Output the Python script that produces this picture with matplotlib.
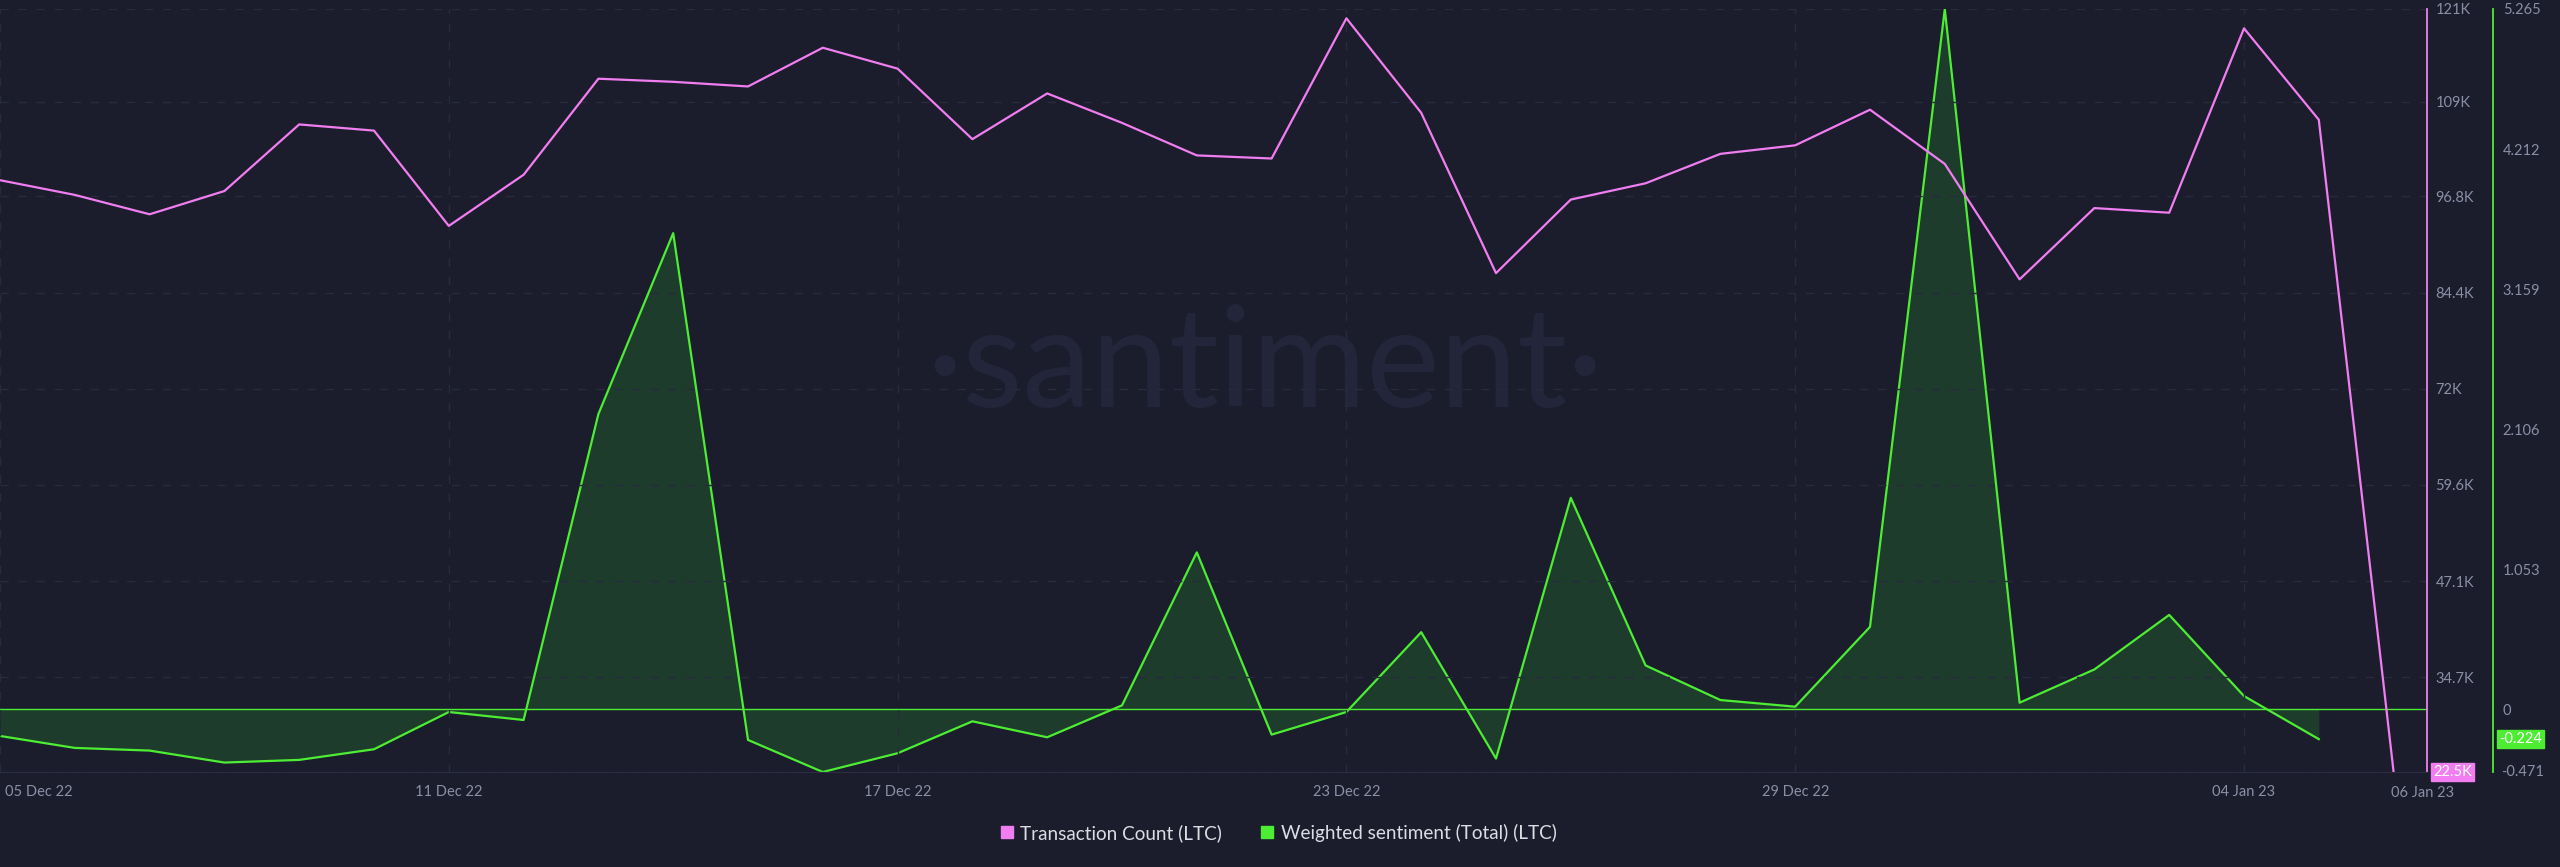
import matplotlib
matplotlib.use("Agg")
import matplotlib.pyplot as plt
import matplotlib.dates as mdates
import matplotlib.transforms as mtransforms
from matplotlib.lines import Line2D
import pandas as pd
import numpy as np

# ---- data ----
dates = pd.date_range("2022-12-05", "2023-01-06", freq="D")
tx_count_k = [98.9, 97.0, 94.5, 97.5, 106.1, 105.3, 93.0, 99.6, 112.0, 111.6, 111.0,
              116.0, 113.3, 104.2, 110.1, 106.3, 102.1, 101.7, 119.8, 107.6, 86.9, 96.4,
              98.5, 102.3, 103.4, 108.0, 101.0, 86.1, 95.3, 94.7, 118.5, 106.7, 22.5]
sentiment = [-0.20, -0.29, -0.31, -0.40, -0.38, -0.30, -0.02, -0.08, 2.22, 3.58, -0.23,
             -0.471, -0.33, -0.09, -0.21, 0.03, 1.18, -0.19, -0.02, 0.58, -0.37, 1.59,
             0.33, 0.07, 0.02, 0.62, 5.265, 0.05, 0.30, 0.71, 0.10, -0.224]
tx_ticks_k = [22.5, 34.7, 47.1, 59.6, 72.0, 84.4, 96.8, 109.0, 121.0]
tx_tick_labels = ["", "34.7K", "47.1K", "59.6K", "72K", "84.4K", "96.8K", "109K", "121K"]
sent_ticks = [0, 1.053, 2.106, 3.159, 4.212, 5.265]
sent_tick_labels = ["0", "1.053", "2.106", "3.159", "4.212", "5.265"]
x_tick_dates = pd.to_datetime(["2022-12-05", "2022-12-11", "2022-12-17", "2022-12-23",
                               "2022-12-29", "2023-01-04"])
series_names = ["Transaction Count (LTC)", "Weighted sentiment (Total) (LTC)"]

# ---- style ----
BG = "#1b1d2c"
GRID = "#282b3e"
PINK = "#f07ef0"
GREEN = "#4ded34"
FILL = "#1f3e2c"
TXT = "#8b8fa6"
plt.rcParams["font.family"] = ["Lato", "DejaVu Sans"]

W, H = 2560, 867
fig = plt.figure(figsize=(W / 100, H / 100), dpi=100, facecolor=BG)

ax_left, ax_right, ax_top, ax_bot = 0, 2427, 9, 772
ax = fig.add_axes([ax_left / W, 1 - ax_bot / H, (ax_right - ax_left) / W, (ax_bot - ax_top) / H])
ax2 = ax.twinx()
ax.set_zorder(ax2.get_zorder() + 1)
ax.patch.set_visible(False)
ax2.set_facecolor(BG)

# watermark (behind everything)
ax2.text(1265 / 2427, (772 - 368) / (772 - 9), "\u00b7santiment\u00b7", transform=ax2.transAxes,
         color="#23263a", fontsize=100, fontweight="normal", ha="center", va="center", zorder=0)

x = mdates.date2num(dates)
tx_vals = np.array(tx_count_k) * 1000
ax.plot(x, tx_vals, color=PINK, lw=1.6, zorder=3)

xs = x[:len(sentiment)]
ax2.fill_between(xs, sentiment, 0, color=FILL, alpha=0.95, lw=0, zorder=1)
ax2.plot(xs, sentiment, color=GREEN, lw=1.6, zorder=2)
ax2.axhline(0, color=GREEN, lw=1.0, zorder=2)

x0 = x[0]
day_px = 74.8
ax.set_xlim(x0, x0 + (ax_right - 0) / day_px)
ax.set_ylim(22.5e3, 121e3)
ax2.set_ylim(-0.471, 5.265)

# grid
ax.set_yticks(np.array(tx_ticks_k) * 1000)
ax.set_yticklabels(tx_tick_labels)
ax.set_xticks(mdates.date2num(x_tick_dates))
ax.xaxis.set_major_formatter(mdates.DateFormatter("%d %b %y"))
ax.grid(True, color=GRID, lw=1.0, ls=(0, (6, 7)))

ax.yaxis.tick_right()
ax.tick_params(axis="y", length=0, pad=6, labelsize=10.5, colors=TXT)
ax.tick_params(axis="x", length=0, pad=9, labelsize=10.5, colors=TXT)
fig.canvas.draw()
first = ax.get_xticklabels()[0]
first.set_ha("left")
first.set_transform(first.get_transform() + mtransforms.ScaledTranslation(5 / 100, 0, fig.dpi_scale_trans))

for s in ["left", "top"]:
    ax.spines[s].set_visible(False)
ax.spines["bottom"].set_color("#2b2e42")
ax.spines["right"].set_color(PINK)
ax.spines["right"].set_linewidth(1.3)

ax2.spines["right"].set_position(("axes", 2493 / (ax_right - ax_left)))
for s in ["left", "top", "bottom"]:
    ax2.spines[s].set_visible(False)
ax2.spines["right"].set_color(GREEN)
ax2.spines["right"].set_linewidth(1.3)
ax2.set_yticks(sent_ticks)
ax2.set_yticklabels(sent_tick_labels)
ax2.tick_params(axis="y", length=0, pad=7, labelsize=10.5, colors=TXT)

# extra bottom labels
ax2.text(1.0 + 8 / 2427 + (2493 - 2427) / 2427, -0.471, "-0.471", transform=ax2.get_yaxis_transform(),
         color=TXT, fontsize=10.5, va="center", ha="left")
ax.text(x[-1] - 0.03, -0.018, "06 Jan 23", transform=ax.get_xaxis_transform(),
        color=TXT, fontsize=10.5, va="top", ha="left")

# last value badges
ax.text(1.0 + 6 / 2427, 22.5e3, "22.5K", transform=ax.get_yaxis_transform(),
        color="white", fontsize=10.5, va="center", ha="left", zorder=10,
        bbox=dict(boxstyle="square,pad=0.15", fc=PINK, ec=PINK))
ax2.text(1.0 + (2499 - 2427) / 2427, sentiment[-1], "-0.224", transform=ax2.get_yaxis_transform(),
         color="white", fontsize=10.5, va="center", ha="left", zorder=10,
         bbox=dict(boxstyle="square,pad=0.15", fc=GREEN, ec=GREEN))

# legend
handles = [Line2D([], [], ls="", marker="s", markersize=9, color=PINK),
           Line2D([], [], ls="", marker="s", markersize=9, color=GREEN)]
fig.legend(handles, series_names, loc="center", bbox_to_anchor=(1278 / W, 1 - 833 / H),
           ncol=2, frameon=False, fontsize=13.6, labelcolor="#dcdde4",
           handletextpad=0.3, columnspacing=2.0, handlelength=0.8)

fig.savefig("out.png", dpi=100, facecolor=BG)
